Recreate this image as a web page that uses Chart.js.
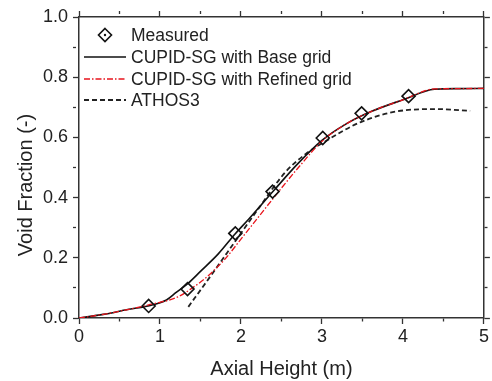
<!DOCTYPE html>
<html>
<head>
<meta charset="utf-8">
<script src="https://cdn.jsdelivr.net/npm/chart.js@4"></script>
<style>
  html, body { margin: 0; padding: 0; background: #fff; }
  #wrap { width: 492px; height: 381px; }
</style>
</head>
<body>
<div id="wrap"><canvas id="chart" width="492" height="381"></canvas></div>
<script>
// measured points
const measuredX = [0.86, 1.34, 1.93, 2.39, 3.01, 3.49, 4.07];
const measuredY = [0.04, 0.096, 0.281, 0.42, 0.598, 0.68, 0.737];

// CUPID-SG base grid
const baseX = [0, 0.3, 0.6, 0.85, 1.08, 1.2, 1.35, 1.5, 1.72, 1.93, 2.1, 2.4, 2.7, 3.0, 3.3, 3.6, 4.0, 4.39, 4.7, 5.0];
const baseY = [0, 0.012, 0.028, 0.04, 0.06, 0.085, 0.116, 0.155, 0.213, 0.28, 0.33, 0.422, 0.512, 0.59, 0.645, 0.685, 0.725, 0.76, 0.762, 0.763];

// CUPID-SG refined grid
const refinedX = [0, 0.3, 0.6, 0.85, 1.22, 1.4, 1.56, 1.8, 2.0, 2.2, 2.45, 2.71, 3.0, 3.3, 3.6, 4.0, 4.39, 4.7, 5.0];
const refinedY = [0, 0.012, 0.028, 0.043, 0.07, 0.1, 0.132, 0.195, 0.262, 0.33, 0.415, 0.5, 0.587, 0.645, 0.685, 0.725, 0.761, 0.762, 0.763];

// ATHOS3
const athosX = [1.35, 1.6, 1.93, 2.22, 2.55, 2.8, 3.0, 3.48, 4.02, 4.42, 4.83];
const athosY = [0.037, 0.13, 0.255, 0.365, 0.485, 0.545, 0.58, 0.651, 0.69, 0.694, 0.688];

const legendLabels = ["Measured", "CUPID-SG with Base grid", "CUPID-SG with Refined grid", "ATHOS3"];

const pts = (xs, ys) => xs.map((x, i) => ({ x: x, y: ys[i] }));
const FONT = "'Liberation Sans', Arial, sans-serif";
const AXIS = "#333";

// minor ticks: shorten with a dash
const minorX = (ctx) => (Math.abs(ctx.tick.value - Math.round(ctx.tick.value)) > 1e-6 ? [3, 20] : []);
const minorY = (ctx) => (Math.round(ctx.tick.value * 10) % 2 !== 0 ? [3, 20] : []);

// legend drawn inside the plot, top-left
const insideLegend = {
  id: "insideLegend",
  afterDraw(chart) {
    const c = chart.ctx;
    const rows = [35, 57, 79, 100];
    c.save();
    c.font = "17.5px " + FONT;
    c.fillStyle = "#222";
    c.textBaseline = "middle";
    chart.data.datasets.forEach((ds, i) => {
      const y = rows[i];
      if (i === 0) {
        c.beginPath();
        c.moveTo(105, y - 6.5); c.lineTo(111.5, y); c.lineTo(105, y + 6.5); c.lineTo(98.5, y);
        c.closePath();
        c.lineWidth = 1.6; c.strokeStyle = "#111"; c.stroke();
        c.beginPath(); c.arc(105, y, 1.2, 0, Math.PI * 2); c.fillStyle = "#111"; c.fill();
        c.fillStyle = "#222";
      } else {
        c.beginPath();
        c.setLineDash(ds.borderDash || []);
        c.lineWidth = ds.borderWidth; c.strokeStyle = ds.borderColor;
        c.moveTo(84, y); c.lineTo(126, y); c.stroke();
        c.setLineDash([]);
      }
      c.fillText(legendLabels[i], 131, y + 1);
    });
    // y axis title
    c.translate(25, 185);
    c.rotate(-Math.PI / 2);
    c.textAlign = "center";
    c.font = "20px " + FONT;
    c.fillText("Void Fraction (-)", 0, 1);
    c.restore();
  }
};

new Chart(document.getElementById("chart"), {
  type: "line",
  data: {
    datasets: [
      { label: legendLabels[0], data: pts(measuredX, measuredY), showLine: false, pointStyle: "rectRot",
        pointRadius: 6.5, pointBorderColor: "#111", pointBackgroundColor: "rgba(255,255,255,0)",
        pointBorderWidth: 1.6, borderColor: "#111", order: 0 },
      { label: legendLabels[1], data: pts(baseX, baseY), borderColor: "#111", borderWidth: 1.6,
        pointRadius: 0, cubicInterpolationMode: "monotone", order: 2 },
      { label: legendLabels[2], data: pts(refinedX, refinedY), borderColor: "#e8141c", borderWidth: 1.3,
        borderDash: [6, 2, 1.5, 2], pointRadius: 0, cubicInterpolationMode: "monotone", order: 1 },
      { label: legendLabels[3], data: pts(athosX, athosY), borderColor: "#222", borderWidth: 1.8,
        borderDash: [5, 3], pointRadius: 0, cubicInterpolationMode: "monotone", order: 3 }
    ]
  },
  options: {
    responsive: false,
    animation: false,
    layout: { padding: 0 },
    plugins: { legend: { display: false }, tooltip: { enabled: false } },
    scales: {
      x: {
        type: "linear", position: "bottom", min: 0, max: 5,
        afterFit: (s) => { s.height = 63; },
        ticks: { stepSize: 0.5, color: "#222", font: { family: FONT, size: 18 }, padding: 2,
          callback: (v) => (Math.abs(v - Math.round(v)) < 1e-6 ? String(Math.round(v)) : "") },
        grid: { drawOnChartArea: false, drawTicks: true, tickLength: 6, tickColor: AXIS, tickWidth: 1.3,
          tickBorderDash: minorX },
        border: { display: true, color: AXIS, width: 1.5 },
        title: { display: true, text: "Axial Height (m)", color: "#222", font: { family: FONT, size: 20 },
          padding: { top: 0, bottom: 0 } }
      },
      x2: {
        type: "linear", position: "top", min: 0, max: 5,
        afterFit: (s) => { s.height = 17; },
        ticks: { stepSize: 0.5, display: false },
        grid: { drawOnChartArea: false, drawTicks: true, tickLength: 6, tickColor: AXIS, tickWidth: 1.3,
          tickBorderDash: minorX },
        border: { display: true, color: AXIS, width: 1.5 }
      },
      y: {
        type: "linear", position: "left", min: 0, max: 1,
        afterFit: (s) => { s.width = 79; },
        ticks: { stepSize: 0.1, color: "#222", font: { family: FONT, size: 18 }, padding: 5,
          callback: (v) => (Math.round(v * 10) % 2 === 0 ? v.toFixed(1) : "") },
        grid: { drawOnChartArea: false, drawTicks: true, tickLength: 6, tickColor: AXIS, tickWidth: 1.3,
          tickBorderDash: minorY },
        border: { display: true, color: AXIS, width: 1.5 }
      },
      y2: {
        type: "linear", position: "right", min: 0, max: 1,
        afterFit: (s) => { s.width = 5; },
        ticks: { stepSize: 0.1, display: false },
        grid: { drawOnChartArea: false, drawTicks: true, tickLength: 6, tickColor: AXIS, tickWidth: 1.3,
          tickBorderDash: minorY },
        border: { display: true, color: AXIS, width: 1.5 }
      }
    }
  },
  plugins: [insideLegend]
});
</script>
</body>
</html>
